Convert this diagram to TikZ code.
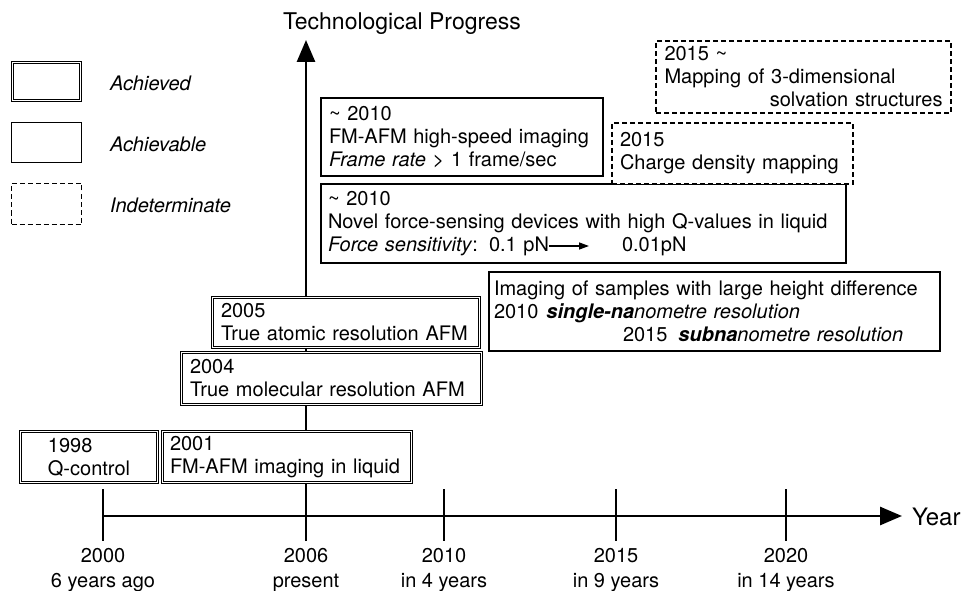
\documentclass[tikz,border=0pt]{standalone}
\usepackage{fontspec}
\setmainfont{TeX Gyre Heros}
\usetikzlibrary{arrows.meta}
\begin{document}
\begin{tikzpicture}[x=1pt,y=-1pt,
  every node/.style={font=\fontsize{20}{23}\selectfont, inner sep=0pt, outer sep=0pt},
  achieved/.style={draw, double, double distance=1.4pt, line width=0.9pt, fill=white},
  achievable/.style={draw, line width=1.3pt, fill=white},
  indet/.style={draw, line width=1.2pt, dash pattern=on 5pt off 3pt, fill=white},
  axisline/.style={line width=2.8pt},
  bigtip/.style={-{Triangle[length=22pt,width=18pt]}},
  smalltip/.style={line width=1.3pt, -{Triangle[length=10pt,width=7pt]}},
  legtext/.style={anchor=base west, font=\fontsize{20}{23}\selectfont\itshape},
  axtitle/.style={anchor=base west, font=\fontsize{23}{26}\selectfont},
  yearlab/.style={anchor=base},
]
\useasboundingbox (0,0) rectangle (967,591);

% axes
\coordinate (x0) at (103,516);
\coordinate (xend) at (902,516);
\coordinate (ybot) at (306,541);
\coordinate (ytop) at (306,40);
\draw[axisline, bigtip] (x0) -- (xend);
\draw[axisline, bigtip] (ybot) -- (ytop);
\node[axtitle] (ylab) at (283,30) {Technological Progress};
\node[axtitle, font=\fontsize{24}{27}\selectfont] (xlab) at (912,525) {Year};

% ticks and labels
\foreach \x/\yr/\sub/\n in {103/2000/6 years ago/a, 306/2006/present/b, 444/2010/in 4 years/c, 616/2015/in 9 years/d, 786/2020/in 14 years/e}{
  \coordinate (t\n top) at (\x,489);
  \coordinate (t\n bot) at (\x,541);
  \draw[axisline] (t\n top) -- (t\n bot);
  \node[yearlab] (yr\n) at (\x,562) {\yr};
  \node[yearlab] (sub\n) at (\x,587) {\sub};
}

% legend
\node[achieved, minimum width=67.6pt, minimum height=37.6pt] (lg1) at (46.5,81.5) {};
\node[achievable, minimum width=70pt, minimum height=40pt] (lg2) at (46.5,142.5) {};
\node[indet, minimum width=70pt, minimum height=41pt] (lg3) at (46.5,204) {};
\node[legtext] (lt1) at (110,91) {Achieved};
\node[legtext] (lt2) at (110,152) {Achievable};
\node[legtext] (lt3) at (110,212) {Indeterminate};

% achieved boxes
\node[achieved, minimum width=136.6pt, minimum height=50.6pt, align=left] (b1998) at (89,457) {1998\\Q-control};
\node[achieved, minimum width=248.6pt, minimum height=50.6pt, text width=234pt, align=left] (b2001) at (287,457) {2001\\FM-AFM imaging in liquid};
\node[achieved, minimum width=299.6pt, minimum height=51.6pt, text width=283pt, align=left] (b2004) at (331.5,378.5) {2004\\True molecular resolution AFM};
\node[achieved, minimum width=266.6pt, minimum height=49.6pt, text width=250pt, align=left] (b2005) at (346,322.5) {2005\\True atomic resolution AFM};

% achievable boxes
\node[achievable, minimum width=282pt, minimum height=78pt, text width=266pt, align=left] (bfm) at (462,137)
  {\textasciitilde\ 2010\\FM-AFM high-speed imaging\\\textit{Frame rate} > 1 frame/sec};
\node[achievable, minimum width=525pt, minimum height=79pt, text width=511pt, align=left] (bnovel) at (583.5,223.5)
  {\textasciitilde\ 2010\\Novel force-sensing devices with high Q-values in liquid\\\textit{Force sensitivity}:\hspace{11pt}0.1 pN\hspace{73pt}0.01pN};
\node[achievable, minimum width=451pt, minimum height=79pt, text width=441pt, align=left] (bimg) at (714.5,311.5)
  {Imaging of samples with large height difference\\2010\hspace{8pt}\textbf{\textit{single-na}}\textit{nometre resolution}\\\hspace*{129pt}2015\hspace{11pt}\textbf{\textit{subna}}\textit{nometre resolution}};

% indeterminate boxes
\node[indet, minimum width=241pt, minimum height=61pt, text width=225pt, align=left] (bcharge) at (732.5,153.5)
  {2015\\Charge density mapping};
\node[indet, minimum width=295pt, minimum height=72pt, text width=278pt, align=left] (bmap) at (803.5,77)
  {2015 \textasciitilde\\Mapping of 3-dimensional\\\hspace*{0pt}\hfill solvation structures\hspace*{3pt}};

% arrow in force sensitivity line
\coordinate (fa) at (549,246);
\coordinate (fb) at (589,246);
\draw[smalltip] (fa) -- (fb);
\end{tikzpicture}
\end{document}
